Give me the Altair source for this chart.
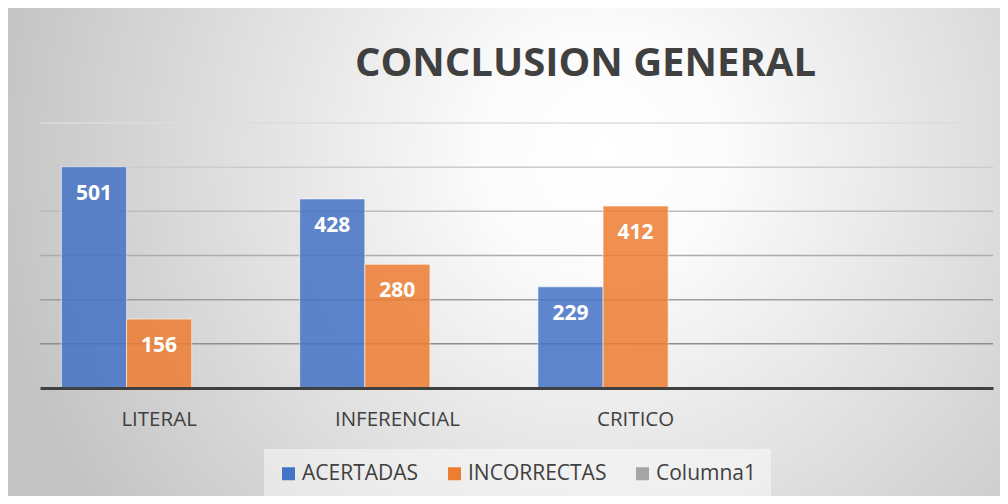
import altair as alt
import pandas as pd

categorias = ["LITERAL", "INFERENCIAL", "CRITICO", ""]
series = ["ACERTADAS", "INCORRECTAS", "Columna1"]
acertadas = [501, 428, 229]
incorrectas = [156, 280, 412]
rejilla = [100, 200, 300, 400, 500, 600]
colores = ["#4472C4", "#ED7D31", "#A5A5A5"]

rows = []
for c, a, i in zip(categorias[:3], acertadas, incorrectas):
    rows.append({"categoria": c, "serie": "ACERTADAS", "valor": a})
    rows.append({"categoria": c, "serie": "INCORRECTAS", "valor": i})
df = pd.DataFrame(rows)
grid_df = pd.DataFrame({"valor": rejilla})
bg_df = pd.DataFrame({"k": [0]})

W, H = 953, 265
PL, PT = 32, 115
TOTAL_W, TOTAL_H = 992, 488

FONT = "Open Sans"
GRAY = "#404040"

x_enc = alt.X(
    "categoria:N",
    sort=categorias,
    scale=alt.Scale(domain=categorias, paddingInner=0.18, paddingOuter=0.09),
    axis=alt.Axis(
        title=None, labelAngle=0, ticks=False, grid=False, zindex=2,
        domainColor=GRAY, domainWidth=3, labelPadding=21,
        labelFontSize=20.5, labelColor=GRAY, labelFont=FONT,
    ),
)
xoff = alt.XOffset("serie:N", scale=alt.Scale(domain=series, paddingInner=0, paddingOuter=0))
y_enc = alt.Y("valor:Q", scale=alt.Scale(domain=[0, 600], nice=False, zero=True), axis=None)

bg = alt.Chart(bg_df).mark_rect(
    color={
        "gradient": "radial",
        "x1": 0.6, "y1": 0.4, "r1": 0.0,
        "x2": 0.6, "y2": 0.4, "r2": 0.62,
        "stops": [
            {"offset": 0.0, "color": "#ffffff"},
            {"offset": 0.2, "color": "#fbfbfb"},
            {"offset": 1.0, "color": "#c4c4c4"},
        ],
    }
).encode(
    x=alt.value(-PL), x2=alt.value(TOTAL_W - PL),
    y=alt.value(-PT), y2=alt.value(TOTAL_H - PT),
)

grid = alt.Chart(grid_df).mark_rule(strokeWidth=1.5).encode(
    y=y_enc,
    stroke=alt.Stroke("valor:Q", scale=alt.Scale(domain=[100, 600], range=["#8e8e8e", "#dcdcdc"]), legend=None),
)

bars = alt.Chart(df).mark_bar(
    fillOpacity=0.85, stroke="#ffffff", strokeOpacity=0.55, strokeWidth=1
).encode(
    x=x_enc,
    xOffset=xoff,
    y=y_enc,
    color=alt.Color(
        "serie:N",
        scale=alt.Scale(domain=series, range=colores),
        legend=alt.Legend(
            title=None, orient="none", direction="horizontal",
            legendX=224, legendY=326,
            symbolType="square", symbolSize=169, symbolStrokeWidth=0,
            labelFontSize=21, labelFont=FONT, labelColor=GRAY,
            columnPadding=25, labelOffset=3, padding=14,
            fillColor="rgba(255,255,255,0.45)",
        ),
    ),
)

labels = alt.Chart(df).mark_text(
    color="white", fontWeight="bold", fontSize=21, font=FONT,
    baseline="middle", dy=27,
).encode(
    x=x_enc,
    xOffset=xoff,
    y=y_enc,
    text=alt.Text("valor:Q"),
)

chart = alt.layer(bg, grid, bars, labels).properties(
    width=W, height=H,
    autosize="none",
    padding={"left": PL, "top": PT, "right": TOTAL_W - PL - W, "bottom": TOTAL_H - PT - H},
    background="white",
    title=alt.TitleParams(
        "CONCLUSION GENERAL", font=FONT, fontSize=40, fontWeight="bold",
        color=GRAY, anchor="middle", frame="group", baseline="alphabetic",
        offset=-108, dx=69,
    ),
).configure_view(stroke=None)

chart.save("out.html", embed_options={"renderer": "svg", "actions": False})
